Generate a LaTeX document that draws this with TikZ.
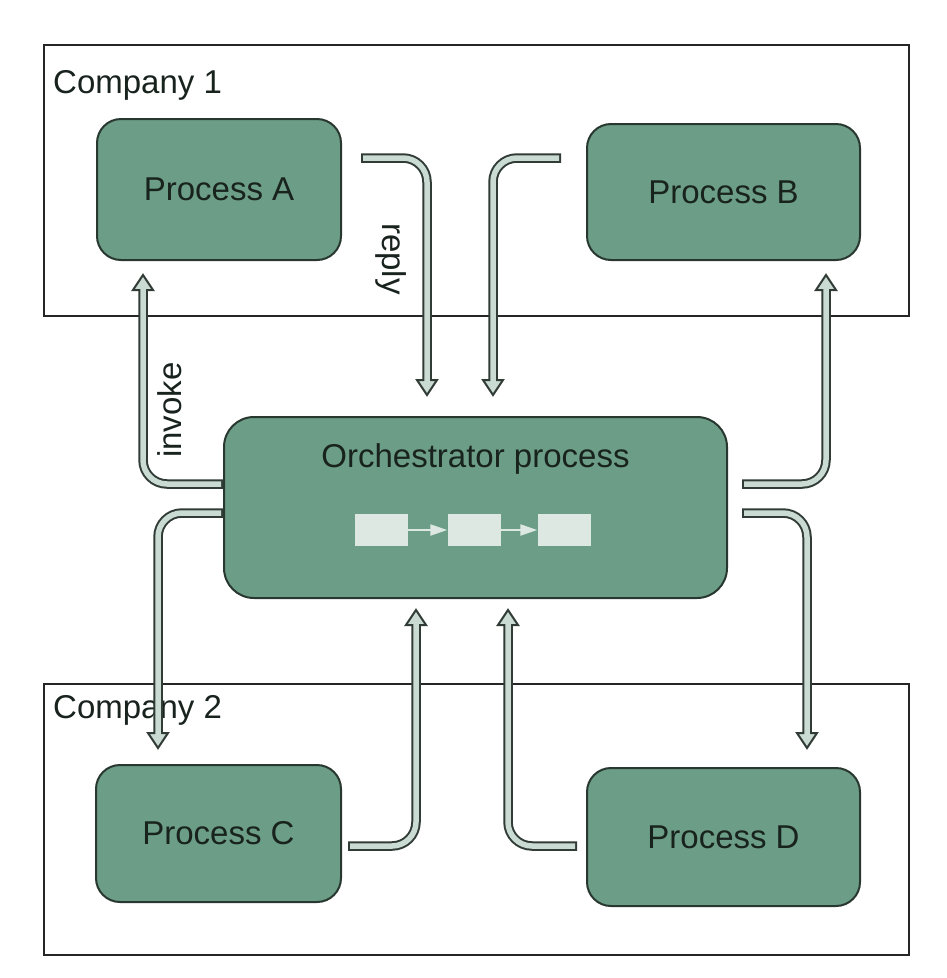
\documentclass[tikz,border=0pt]{standalone}
\usepackage{fontspec}
\setmainfont{Liberation Sans}
\usetikzlibrary{calc,arrows.meta}
\definecolor{boxgreen}{RGB}{108,157,135}
\definecolor{boxline}{RGB}{40,56,48}
\definecolor{pipelight}{RGB}{201,219,211}
\definecolor{pipedark}{RGB}{50,60,55}
\definecolor{smallbox}{RGB}{221,232,227}
\definecolor{txt}{RGB}{25,35,30}
\tikzset{
  frame/.style={draw=black!85, line width=2.6pt, minimum width=865pt, minimum height=271pt, inner sep=0pt},
  proc/.style={draw=boxline, fill=boxgreen, line width=2pt, rounded corners=24pt, inner sep=0pt, text=txt, font=\fontsize{33}{40}\selectfont},
  lbl/.style={text=txt, font=\fontsize{33}{40}\selectfont, inner sep=0pt},
  pipeout/.style={draw=pipedark, line width=9.5pt, rounded corners=24pt},
  pipein/.style={draw=pipelight, line width=5.5pt, rounded corners=24pt},
  headstyle/.style={draw=pipedark, fill=pipelight, line width=2pt, line join=miter},
  sbox/.style={fill=smallbox, minimum width=53pt, minimum height=32pt, inner sep=0pt},
  sarrow/.style={draw=smallbox, line width=2.2pt, -{Triangle[length=17pt,width=11pt]}}
}
\newcommand\pipe[3]{%
  \coordinate (pb) at ($(#3)!15pt!(#2)$);
  \coordinate (pe) at ($(#3)!13pt!(#2)$);
  \coordinate (pi) at ($(#3)!11pt!(#2)$);
  \draw[pipeout] (#1) -- (#2) -- (pe);
  \draw[headstyle] (#3) -- ($(pb)!10pt!90:(#3)$) -- ($(pb)!10pt!-90:(#3)$) -- cycle;
  \draw[pipein, shorten <=2pt] (#1) -- (#2) -- (pi);
}
\begin{document}
\begin{tikzpicture}[x=1pt,y=-1pt]
\useasboundingbox (0,0) rectangle (946,978);
\fill[white] (0,0) rectangle (946,978);
% frames
\node[frame] (c1) at (476.5,180.5) {};
\node[frame] (c2) at (476.5,819.5) {};
\node[lbl, anchor=base west] (c1l) at (53,93) {Company 1};
\node[lbl, anchor=base west] (c2l) at (53,718) {Company 2};
% processes
\node[proc, minimum width=244pt, minimum height=141pt] (pa) at (219,189.5) {Process A};
\node[proc, minimum width=273pt, minimum height=136pt] (pbx) at (723.5,192) {Process B};
\node[proc, minimum width=245pt, minimum height=137pt] (pc) at (218.5,833.5) {Process C};
\node[proc, minimum width=273pt, minimum height=138pt] (pd) at (723.5,837) {Process D};
\node[proc, rounded corners=30pt, minimum width=503pt, minimum height=181pt] (orc) at (475.5,507.5) {};
\node[lbl, anchor=base] (orct) at (475.5,467) {Orchestrator process};
% small boxes
\node[sbox] (s1) at (381.5,530) {};
\node[sbox] (s2) at (474,530) {};
\node[sbox] (s3) at (564,530) {};
\draw[sarrow] (s1) -- (s2);
\draw[sarrow] (s2) -- (s3);
% pipe coordinates
\coordinate (r0) at (361,158); \coordinate (r1) at (427,158); \coordinate (r2) at (427,395);
\coordinate (b0) at (561,158); \coordinate (b1) at (493,158); \coordinate (b2) at (493,395);
\coordinate (i0) at (orc.west |- 0,484); \coordinate (i1) at (143,484); \coordinate (i2) at (143,275);
\coordinate (l0) at (orc.west |- 0,513); \coordinate (l1) at (158,513); \coordinate (l2) at (158,748);
\coordinate (u0) at (742,484); \coordinate (u1) at (826,484); \coordinate (u2) at (826,275);
\coordinate (d0) at (742,513); \coordinate (d1) at (807,513); \coordinate (d2) at (807,748);
\coordinate (cc0) at (348,846); \coordinate (cc1) at (416,846); \coordinate (cc2) at (416,610);
\coordinate (dd0) at (577,846); \coordinate (dd1) at (508,846); \coordinate (dd2) at (508,610);
\pipe{r0}{r1}{r2}
\pipe{b0}{b1}{b2}
\pipe{i0}{i1}{i2}
\pipe{l0}{l1}{l2}
\pipe{u0}{u1}{u2}
\pipe{d0}{d1}{d2}
\pipe{cc0}{cc1}{cc2}
\pipe{dd0}{dd1}{dd2}
% labels
\node[lbl, rotate=-90] (reply) at (391,259) {reply};
\node[lbl, rotate=90] (invoke) at (170,410) {invoke};
\end{tikzpicture}
\end{document}
